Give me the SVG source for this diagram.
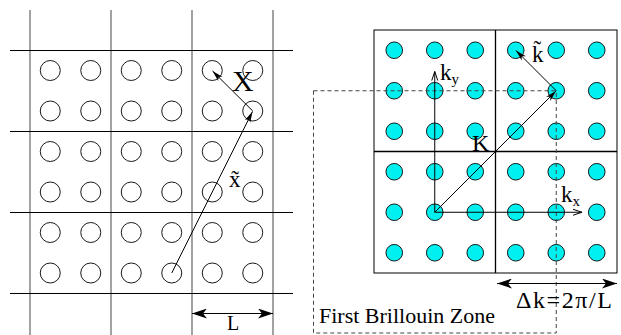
<svg xmlns="http://www.w3.org/2000/svg" width="621" height="335" viewBox="0 0 621 335">
<defs>
<style>
.vl{stroke:#666;stroke-width:1.2;fill:none}
.hl{stroke:#000;stroke-width:1;fill:none}
.oc{fill:none;stroke:#000;stroke-width:0.9}
.cc{fill:#00f0f0;stroke:#000;stroke-width:0.9}
.ar{stroke:#000;stroke-width:1;fill:none}
.dash{stroke:#444;stroke-width:1;fill:none;stroke-dasharray:4,3}
</style>
<marker id="sh" markerWidth="12" markerHeight="8" refX="11" refY="4" orient="auto" markerUnits="userSpaceOnUse">
<path d="M0,1 L11,4 L0,7 L3,4 Z" fill="#000"/>
</marker>
<marker id="ch" markerWidth="10" markerHeight="8" refX="9" refY="4" orient="auto" markerUnits="userSpaceOnUse">
<path d="M0,1 L9,4 L0,7" fill="none" stroke="#000" stroke-width="1"/>
</marker>
<marker id="big" markerWidth="16" markerHeight="10" refX="15" refY="5" orient="auto-start-reverse" markerUnits="userSpaceOnUse">
<path d="M0,0 L15,5 L0,10 L4,5 Z" fill="#000"/>
</marker>
</defs>

<g id="real-lattice">
<path class="vl" d="M30,10V335M111,10V335M192,10V335M273,10V335"/>
<path class="hl" d="M10,50.5H293M10,131.5H293M10,212.5H293M10,293.5H293"/>
<g id="real-sites">
<circle class="oc" cx="50.25" cy="70.5" r="10"/><circle class="oc" cx="90.75" cy="70.5" r="10"/><circle class="oc" cx="131.25" cy="70.5" r="10"/><circle class="oc" cx="171.75" cy="70.5" r="10"/><circle class="oc" cx="212.25" cy="70.5" r="10"/><circle class="oc" cx="252.75" cy="70.5" r="10"/>
<circle class="oc" cx="50.25" cy="111" r="10"/><circle class="oc" cx="90.75" cy="111" r="10"/><circle class="oc" cx="131.25" cy="111" r="10"/><circle class="oc" cx="171.75" cy="111" r="10"/><circle class="oc" cx="212.25" cy="111" r="10"/><circle class="oc" cx="252.75" cy="111" r="10"/>
<circle class="oc" cx="50.25" cy="151.5" r="10"/><circle class="oc" cx="90.75" cy="151.5" r="10"/><circle class="oc" cx="131.25" cy="151.5" r="10"/><circle class="oc" cx="171.75" cy="151.5" r="10"/><circle class="oc" cx="212.25" cy="151.5" r="10"/><circle class="oc" cx="252.75" cy="151.5" r="10"/>
<circle class="oc" cx="50.25" cy="192" r="10"/><circle class="oc" cx="90.75" cy="192" r="10"/><circle class="oc" cx="131.25" cy="192" r="10"/><circle class="oc" cx="171.75" cy="192" r="10"/><circle class="oc" cx="212.25" cy="192" r="10"/><circle class="oc" cx="252.75" cy="192" r="10"/>
<circle class="oc" cx="50.25" cy="232.5" r="10"/><circle class="oc" cx="90.75" cy="232.5" r="10"/><circle class="oc" cx="131.25" cy="232.5" r="10"/><circle class="oc" cx="171.75" cy="232.5" r="10"/><circle class="oc" cx="212.25" cy="232.5" r="10"/><circle class="oc" cx="252.75" cy="232.5" r="10"/>
<circle class="oc" cx="50.25" cy="273" r="10"/><circle class="oc" cx="90.75" cy="273" r="10"/><circle class="oc" cx="131.25" cy="273" r="10"/><circle class="oc" cx="171.75" cy="273" r="10"/><circle class="oc" cx="212.25" cy="273" r="10"/><circle class="oc" cx="252.75" cy="273" r="10"/>
</g>
</g>

<g id="reciprocal-lattice">
<rect x="374" y="30" width="243" height="243" fill="none" stroke="#000" stroke-width="1"/>
<path d="M495.5,30V273M374,151.5H617" stroke="#000" stroke-width="1.3" fill="none"/>
<g id="reciprocal-sites">
<circle class="cc" cx="394.25" cy="50.25" r="8.3"/><circle class="cc" cx="434.75" cy="50.25" r="8.3"/><circle class="cc" cx="475.25" cy="50.25" r="8.3"/><circle class="cc" cx="515.75" cy="50.25" r="8.3"/><circle class="cc" cx="556.25" cy="50.25" r="8.3"/><circle class="cc" cx="596.75" cy="50.25" r="8.3"/>
<circle class="cc" cx="394.25" cy="90.75" r="8.3"/><circle class="cc" cx="434.75" cy="90.75" r="8.3"/><circle class="cc" cx="475.25" cy="90.75" r="8.3"/><circle class="cc" cx="515.75" cy="90.75" r="8.3"/><circle class="cc" cx="556.25" cy="90.75" r="8.3"/><circle class="cc" cx="596.75" cy="90.75" r="8.3"/>
<circle class="cc" cx="394.25" cy="131.25" r="8.3"/><circle class="cc" cx="434.75" cy="131.25" r="8.3"/><circle class="cc" cx="475.25" cy="131.25" r="8.3"/><circle class="cc" cx="515.75" cy="131.25" r="8.3"/><circle class="cc" cx="556.25" cy="131.25" r="8.3"/><circle class="cc" cx="596.75" cy="131.25" r="8.3"/>
<circle class="cc" cx="394.25" cy="171.75" r="8.3"/><circle class="cc" cx="434.75" cy="171.75" r="8.3"/><circle class="cc" cx="475.25" cy="171.75" r="8.3"/><circle class="cc" cx="515.75" cy="171.75" r="8.3"/><circle class="cc" cx="556.25" cy="171.75" r="8.3"/><circle class="cc" cx="596.75" cy="171.75" r="8.3"/>
<circle class="cc" cx="394.25" cy="212.25" r="8.3"/><circle class="cc" cx="434.75" cy="212.25" r="8.3"/><circle class="cc" cx="475.25" cy="212.25" r="8.3"/><circle class="cc" cx="515.75" cy="212.25" r="8.3"/><circle class="cc" cx="556.25" cy="212.25" r="8.3"/><circle class="cc" cx="596.75" cy="212.25" r="8.3"/>
<circle class="cc" cx="394.25" cy="252.75" r="8.3"/><circle class="cc" cx="434.75" cy="252.75" r="8.3"/><circle class="cc" cx="475.25" cy="252.75" r="8.3"/><circle class="cc" cx="515.75" cy="252.75" r="8.3"/><circle class="cc" cx="556.25" cy="252.75" r="8.3"/><circle class="cc" cx="596.75" cy="252.75" r="8.3"/>
</g>
</g>

<g id="brillouin-zone">
<rect class="dash" x="313.5" y="90.75" width="242.75" height="242.25"/>
</g>

<g id="connectors">
<line class="ar" x1="171.75" y1="273" x2="252.5" y2="111.5" marker-end="url(#sh)"/>
<line class="ar" x1="252.75" y1="111" x2="212.5" y2="71" marker-end="url(#sh)"/>
<line class="ar" x1="192" y1="313.5" x2="273" y2="313.5" marker-start="url(#big)" marker-end="url(#big)"/>
<line class="ar" x1="434.75" y1="212.25" x2="434.75" y2="71.5" marker-end="url(#ch)"/>
<line class="ar" x1="434.75" y1="212.25" x2="582" y2="212.25" marker-end="url(#ch)"/>
<line class="ar" x1="434.75" y1="212.25" x2="556" y2="91" marker-end="url(#sh)"/>
<line class="ar" x1="556.25" y1="90.75" x2="516" y2="50.5" marker-end="url(#sh)"/>
<line class="ar" x1="497" y1="283.5" x2="617" y2="283.5" marker-start="url(#big)" marker-end="url(#big)"/>
</g>

<g id="labels" font-family="'Liberation Serif', 'Times New Roman', serif" fill="#000">
<text x="232" y="91" font-size="30">X</text>
<text x="229" y="187" font-size="23">x̃</text>
<text x="233" y="330" font-size="20" text-anchor="middle">L</text>
<text x="440" y="80" font-size="23">k<tspan font-size="15" dy="4">y</tspan></text>
<text x="472" y="151" font-size="24">K</text>
<text x="532" y="62" font-size="23">k̃</text>
<text x="561" y="202" font-size="23">k<tspan font-size="15" dy="4">x</tspan></text>
<text x="516" y="308" font-size="24" textLength="96">Δk=2π/L</text>
<text x="319" y="323" font-size="22">First Brillouin Zone</text>
</g>
</svg>
